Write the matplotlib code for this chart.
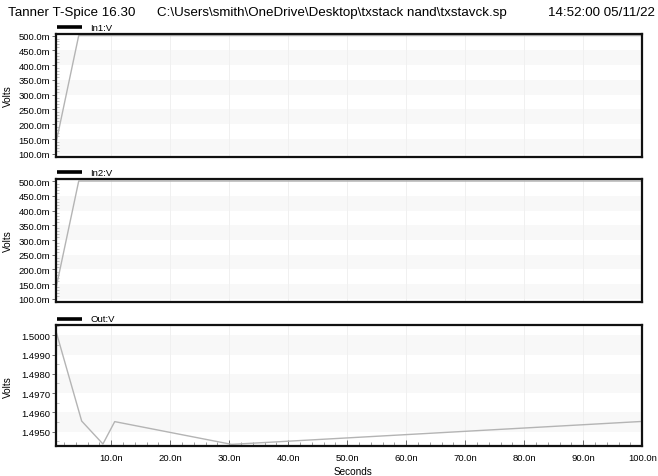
import numpy as np
import matplotlib.pyplot as plt
from matplotlib.ticker import FixedLocator, MultipleLocator, FuncFormatter

plt.rcParams['font.family'] = ['Liberation Sans', 'DejaVu Sans']

# transient results (time in seconds, volts)
t_in = [0.0, 4.5e-9, 100e-9]
v_in1 = [0.075, 0.5, 0.5]
v_in2 = [0.075, 0.5, 0.5]

t_out = [0.0, 5.0e-9, 8.6e-9, 10.6e-9, 30.4e-9, 100e-9]
v_out = [1.5009, 1.49555, 1.49436, 1.49552, 1.49434, 1.49553]

in_ticks = [0.10, 0.15, 0.20, 0.25, 0.30, 0.35, 0.40, 0.45, 0.50]
out_ticks = [1.4950, 1.4960, 1.4970, 1.4980, 1.4990, 1.5000]
x_ticks = [10e-9, 20e-9, 30e-9, 40e-9, 50e-9, 60e-9, 70e-9, 80e-9, 90e-9, 100e-9]

W, H = 658, 477
fig = plt.figure(figsize=(W / 100, H / 100), dpi=100)

x0, x1 = 55.7, 642.3
panels = [
    # top px, bottom px, name, t, v, ylim, ticks, bands
    (34.8, 157.5, 'In1:V', t_in, v_in1, (0.091, 0.506), in_ticks,
     [(0.10, 0.15), (0.20, 0.25), (0.30, 0.35), (0.40, 0.45), (0.50, 0.6)]),
    (180.0, 302.6, 'In2:V', t_in, v_in2, (0.091, 0.507), in_ticks,
     [(0.10, 0.15), (0.20, 0.25), (0.30, 0.35), (0.40, 0.45), (0.50, 0.6)]),
    (326.0, 447.3, 'Out:V', t_out, v_out, (1.49424, 1.50053), out_ticks,
     [(1.4950, 1.4960), (1.4970, 1.4980), (1.4990, 1.5000)]),
]

xlim = (0.6e-9, 100e-9)

for k, (top, bot, name, t, v, ylim, yt, bands) in enumerate(panels):
    ax = fig.add_axes([x0 / W, 1 - bot / H, (x1 - x0) / W, (bot - top) / H])
    for lo, hi in bands:
        ax.axhspan(lo, hi, color='#f8f8f8', lw=0, zorder=0)
    for xt in x_ticks[:-1]:
        ax.axvline(xt, color='#f0f0f0', lw=0.7, zorder=0.5)
    ax.plot(t, v, color='#b4b4b4', lw=1.0, zorder=2)
    ax.set_xlim(*xlim)
    ax.set_ylim(*ylim)

    for s in ax.spines.values():
        s.set_linewidth(1.6)
        s.set_color('#111111')

    ax.yaxis.set_major_locator(FixedLocator(yt))
    if k < 2:
        ax.yaxis.set_major_formatter(FuncFormatter(lambda y, p: '%.1fm' % (y * 1000)))
        ax.yaxis.set_minor_locator(MultipleLocator(0.01))
    else:
        ax.yaxis.set_major_formatter(FuncFormatter(lambda y, p: '%.4f' % y))
        ax.yaxis.set_minor_locator(MultipleLocator(0.0005))
    ax.tick_params(axis='y', which='major', direction='out', length=3, width=0.6,
                   color='#555555', labelsize=6.8, pad=1)
    ax.tick_params(axis='y', which='minor', direction='in', length=2.5, width=0.5,
                   color='#aaaaaa')
    ax.set_ylabel('Volts', fontsize=7.2)
    ax.yaxis.set_label_coords(-0.073, 0.5)

    if k == 2:
        ax.xaxis.set_major_locator(FixedLocator(x_ticks))
        ax.xaxis.set_minor_locator(MultipleLocator(2e-9))
        ax.xaxis.set_major_formatter(FuncFormatter(lambda x, p: '%.1fn' % (x * 1e9)))
        ax.tick_params(axis='x', which='major', direction='in', length=4, width=0.6,
                       color='#555555', labelsize=6.8, pad=5)
        ax.tick_params(axis='x', which='minor', direction='in', length=3, width=0.5,
                       color='#777777')
        ax.set_xlabel('Seconds', fontsize=7.2)
        ax.xaxis.set_label_coords((353 - x0) / (x1 - x0), -19.5 / (bot - top))
    else:
        ax.set_xticks([])
        ax.xaxis.set_minor_locator(FixedLocator([]))

    # legend swatch above the frame
    ly = 1 + 6.5 / (bot - top)
    ax.plot([0.0017, 0.0443], [ly, ly], transform=ax.transAxes, color='k',
            lw=2.6, clip_on=False, solid_capstyle='butt')
    ax.text(0.0585, ly, name, transform=ax.transAxes, fontsize=6.8,
            va='center', ha='left')

fig.text(8 / W, 1 - 13 / H, 'Tanner T-Spice 16.30', fontsize=9.6, va='center', ha='left')
fig.text(157 / W, 1 - 13 / H, r'C:\Users\smith\OneDrive\Desktop\txstack nand\txstavck.sp',
         fontsize=9.6, va='center', ha='left')
fig.text(655 / W, 1 - 13 / H, '14:52:00 05/11/22', fontsize=9.6, va='center', ha='right')

fig.savefig('out.png', dpi=100, facecolor='white')
